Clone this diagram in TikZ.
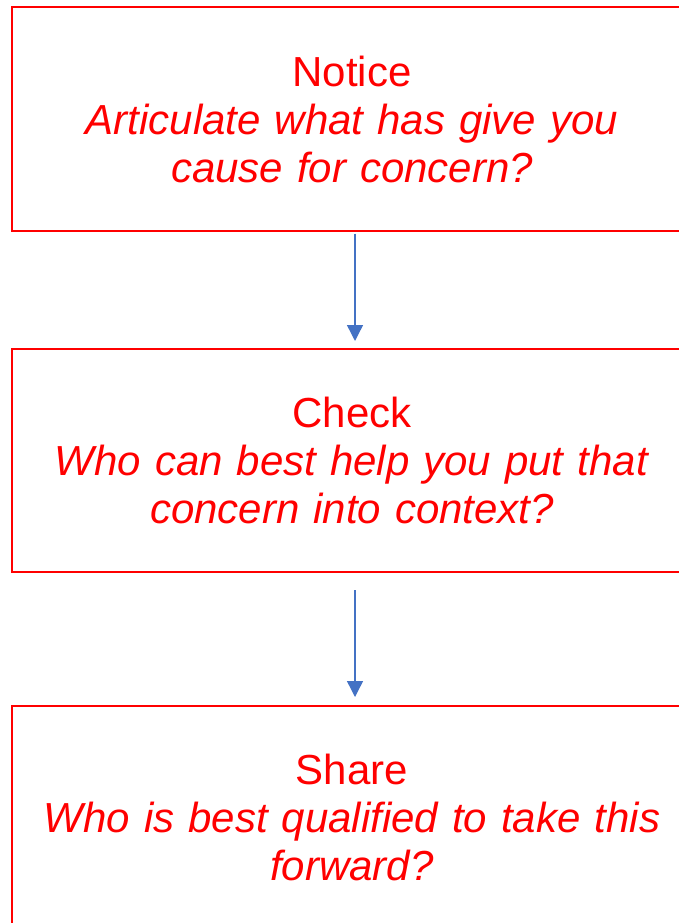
\documentclass[tikz,border=0pt]{standalone}
\usepackage{fontspec}
\setmainfont{Liberation Sans}[WordSpace=0.88]
\usetikzlibrary{arrows.meta,positioning}
\definecolor{boxred}{HTML}{FF0000}
\definecolor{arrowblue}{HTML}{4472C4}

\begin{document}
\begin{tikzpicture}[x=1pt,y=-1pt]
	\tikzstyle{stagebox}=[draw=boxred,line width=2pt,minimum width=680pt,minimum height=223pt,
		text=boxred,align=center,text width=660pt,inner sep=0pt,
		font=\fontsize{42pt}{48pt}\selectfont]
	\tikzstyle{flowarrow}=[arrowblue,line width=1.4pt,-{Triangle[length=16pt,width=16pt]}]
	\useasboundingbox (0,0) rectangle (678,923);

	%% Draw the three stages
	\node[stagebox] (notice) at (352,119) {Notice\\ \textit{Articulate what has give you}\\ \textit{cause for concern?}};
	\node[stagebox] (check) at (352,460.5) {Check\\ \textit{Who can best help you put that}\\ \textit{concern into context?}};
	\node[stagebox] (share) at (352,817.5) {Share\\ \textit{Who is best qualified to take this}\\ \textit{forward?}};

	%% Arrows between stages
	\draw[flowarrow] ([xshift=3pt,yshift=-2pt]notice.south) -- ([xshift=3pt,yshift=7pt]check.north);
	\draw[flowarrow] ([xshift=3pt,yshift=-17pt]check.south) -- ([xshift=3pt,yshift=8pt]share.north);
\end{tikzpicture}
\end{document}
